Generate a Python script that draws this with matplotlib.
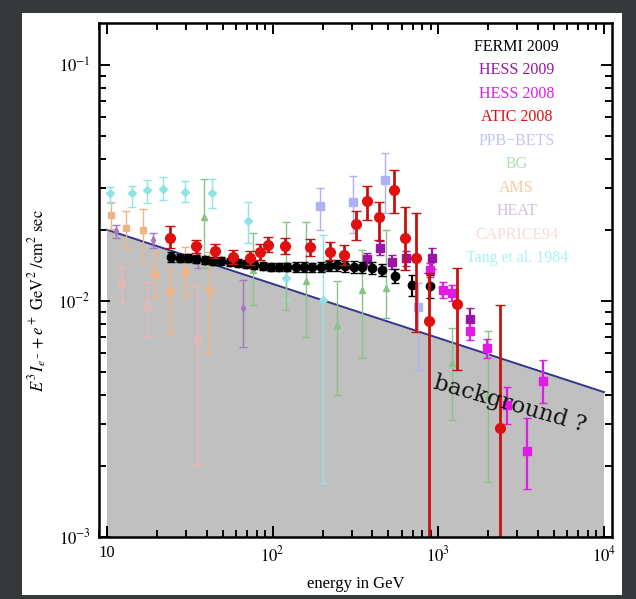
import numpy as np
import matplotlib
matplotlib.use("Agg")
import matplotlib.pyplot as plt
from matplotlib.patches import Rectangle
from matplotlib.ticker import LogLocator, FuncFormatter, NullFormatter

plt.rcParams['font.family'] = ['Liberation Serif', 'DejaVu Serif']
plt.rcParams['mathtext.fontset'] = 'stix'

# ---- measurements: energy [GeV], E^3 flux, lower and upper error limits ----
fermi_E = [24.5, 27.5, 30.9, 34.6, 38.8, 43.6, 48.9, 54.9, 61.6, 69.1, 77.5, 87.0,
           97.6, 109.5, 122.9, 137.9, 154.7, 173.6, 194.8, 218.6, 245.2, 275.2,
           308.7, 346.4, 396.0, 455, 547, 690, 889]
fermi_y = [0.01536, 0.01521, 0.01514, 0.01507, 0.01492, 0.01477, 0.0147, 0.01456,
           0.01442, 0.01428, 0.01414, 0.0140, 0.01393, 0.01393, 0.01393, 0.01393,
           0.01393, 0.01387, 0.01393, 0.01407, 0.01414, 0.0140, 0.01393, 0.01387,
           0.0138, 0.01353, 0.01276, 0.01169, 0.01158]
fermi_rel = [0.045, 0.04, 0.04, 0.04, 0.04, 0.04, 0.04, 0.04, 0.04, 0.04, 0.04, 0.04,
             0.04, 0.04, 0.04, 0.045, 0.045, 0.045, 0.05, 0.05, 0.05, 0.05, 0.055,
             0.055, 0.06, 0.06, 0.07, 0.10, 0.11]

hess09_E = [369, 444, 523, 638, 911, 1551]
hess09_y = [0.01499, 0.01673, 0.01456, 0.01517, 0.01517, 0.00837]
hess09_lo = [0.0141, 0.0156, 0.0136, 0.0141, 0.0137, 0.0076]
hess09_hi = [0.0160, 0.0180, 0.0156, 0.0163, 0.0167, 0.0093]

hess08_E = [889, 1071, 1203, 1551, 1956, 2594, 3425, 4295]
hess08_y = [0.01353, 0.01113, 0.01084, 0.00741, 0.0063, 0.00362, 0.00231, 0.00455]
hess08_lo = [0.0126, 0.0103, 0.0100, 0.0068, 0.0057, 0.0030, 0.0016, 0.0037]
hess08_hi = [0.0145, 0.0120, 0.0117, 0.0081, 0.0069, 0.0043, 0.0032, 0.0056]

atic_E = [24.0, 34.5, 44.9, 57.5, 73.0, 83.8, 94.1, 118.6, 167.8, 223, 269, 320,
          371, 438, 543, 633, 732, 877, 1294, 2355]
atic_y = [0.01844, 0.01699, 0.01629, 0.01536, 0.01521, 0.01613, 0.01727, 0.0171,
          0.01682, 0.01617, 0.01559, 0.02109, 0.02635, 0.0227, 0.02953, 0.01844,
          0.01521, 0.00823, 0.00971, 0.00288]
atic_lo = [0.01677, 0.01597, 0.01521, 0.01435, 0.01414, 0.01492, 0.01613, 0.01582,
           0.01551, 0.01492, 0.01414, 0.01814, 0.02203, 0.01814, 0.0236, 0.01353,
           0.00739, 0.0001, 0.0051, 0.0001]
atic_hi = [0.0208, 0.01814, 0.01744, 0.01645, 0.01629, 0.01744, 0.01867, 0.01844,
           0.01831, 0.01778, 0.01727, 0.02406, 0.03072, 0.02627, 0.0359, 0.02502,
           0.0236, 0.01314, 0.0138, 0.00962]

ppb_E = [194, 305, 476, 753]
ppb_y = [0.0251, 0.02627, 0.03256, 0.00943]
ppb_lo = [0.0200, 0.01941, 0.0236, 0.0051]
ppb_hi = [0.0301, 0.03385, 0.0424, 0.01192]

bg_E = [38.7, 76.3, 120, 158, 245, 344, 483, 1203, 2001]
bg_y = [0.02276, 0.01353, 0.0138, 0.0121, 0.00791, 0.01113, 0.01132, 0.00546, 0.0040]
bg_lo = [0.0138, 0.00962, 0.00916, 0.0070, 0.0040, 0.00573, 0.00847, 0.00313, 0.00171]
bg_hi = [0.0329, 0.01941, 0.02163, 0.02163, 0.01207, 0.01645, 0.0200, 0.00768, 0.00741]

ams_E = [10.6, 13.1, 16.4, 19.5, 24.0, 29.6, 41.4]
ams_y = [0.02314, 0.02039, 0.0200, 0.01301, 0.0110, 0.01327, 0.01113]
ams_lo = [0.0202, 0.01677, 0.01463, 0.0103, 0.00732, 0.0104, 0.00602]
ams_hi = [0.02627, 0.02406, 0.02455, 0.01613, 0.01353, 0.01694, 0.01613]

heat_E = [11.4, 19.0, 35.4, 66.5]
heat_y = [0.0198, 0.01814, 0.01551, 0.00934]
heat_lo = [0.0185, 0.01677, 0.0138, 0.00639]
heat_hi = [0.0210, 0.01941, 0.01727, 0.01227]

caprice_E = [12.3, 17.4, 34.9]
caprice_y = [0.01189, 0.00946, 0.00684]
caprice_lo = [0.00981, 0.00704, 0.00202]
caprice_hi = [0.01393, 0.01203, 0.01169]

tang_E = [10.4, 14.1, 17.4, 21.9, 29.6, 42.8, 71.2, 120, 201]
tang_y = [0.0286, 0.0286, 0.0295, 0.0297, 0.0290, 0.0286, 0.02168, 0.01252, 0.0101]
tang_lo = [0.0260, 0.0250, 0.0260, 0.0268, 0.0263, 0.0248, 0.01761, 0.0101, 0.00169]
tang_hi = [0.0304, 0.0307, 0.0326, 0.0335, 0.0323, 0.0329, 0.02627, 0.01463, 0.01904]

# assumed power-law background
bg_line_E = [10, 10000]
bg_line_y = [0.020, 0.0041]

legend_labels = ['FERMI 2009', 'HESS 2009', 'HESS 2008', 'ATIC 2008', 'PPB\u2212BETS',
                 'BG', 'AMS', 'HEAT', 'CAPRICE94', 'Tang et al. 1984']
legend_colors = ['#000000', '#9a14a8', '#e21ae6', '#e01010', '#c4c4f4',
                 '#b4dcb4', '#f8caa2', '#d4bee4', '#f8dada', '#a8f2f2']

W, H = 636, 599
fig = plt.figure(figsize=(W / 100, H / 100), dpi=100, facecolor='#35393a')
fig.patches.append(Rectangle((22 / W, 1 - 595 / H), (622 - 22) / W, (595 - 13) / H,
                             transform=fig.transFigure, facecolor='white',
                             edgecolor='none', zorder=-10))

ax = fig.add_axes([99 / W, 1 - 536.7 / H, (611.7 - 99) / W, (536.7 - 23.3) / H])
ax.set_zorder(5)
ax.set_xscale('log')
ax.set_yscale('log')
ax.set_xlim(8.95, 11130)
ax.set_ylim(1e-3, 0.15)

# background region
xs = np.array(bg_line_E, dtype=float)
ys = np.array(bg_line_y)
ax.fill_between(xs, ys, 1e-5, color='#c0c0c0', lw=0, zorder=1)
ax.plot(xs, ys, color='#34348a', lw=1.4, zorder=2)


def series(E, y, lo, hi, fmt, color, ecolor, ms, elw, cap, z, mfc=None, mew=1.0):
    E = np.asarray(E, float)
    y = np.asarray(y, float)
    err = [y - np.asarray(lo, float), np.asarray(hi, float) - y]
    ax.errorbar(E, y, yerr=err, fmt=fmt, color=color, ecolor=ecolor, ms=ms,
                elinewidth=elw, capsize=cap, capthick=elw, zorder=z,
                mfc=mfc if mfc is not None else color, mec=color, mew=mew)


series(caprice_E, caprice_y, caprice_lo, caprice_hi, 's', '#f0b4b4', '#f0b4b4',
       5, 1.0, 3, 3, mfc='none')
series(ams_E, ams_y, ams_lo, ams_hi, 's', '#f0b484', '#f0b484', 4, 1.0, 3, 3)
series(heat_E, heat_y, heat_lo, heat_hi, 'd', '#a678c4', '#a678c4', 4, 1.0, 3, 3)
series(tang_E, tang_y, tang_lo, tang_hi, 'D', '#8ee4e4', '#8ee4e4', 4, 1.0, 3, 3)
series(bg_E, bg_y, bg_lo, bg_hi, '^', '#88c488', '#88c488', 4, 1.0, 3, 3)
series(ppb_E, ppb_y, ppb_lo, ppb_hi, 's', '#b0b0f4', '#b0b0f4', 6, 1.0, 3, 4)

fermi_E_a = np.array(fermi_E)
fermi_y_a = np.array(fermi_y)
fermi_rel_a = np.array(fermi_rel)
series(fermi_E_a, fermi_y_a, fermi_y_a * (1 - fermi_rel_a),
       fermi_y_a * (1 + fermi_rel_a), 'o', '#000000', '#000000', 6, 1.6, 3, 6)
series(hess09_E, hess09_y, hess09_lo, hess09_hi, 's', '#9a14a8', '#9a14a8', 6, 1.6, 3, 5)
series(hess08_E, hess08_y, hess08_lo, hess08_hi, 's', '#e21ae6', '#e21ae6', 6, 1.6, 3, 5)
series(atic_E, atic_y, atic_lo, atic_hi, 'o', '#e01010', '#c81010', 7, 2.0, 3.5, 7)

# legend as coloured text entries
for i, (lab, col) in enumerate(zip(legend_labels, legend_colors)):
    ax.text(516.7 / W, 1 - (46.7 + 23.5 * i) / H, lab, transform=fig.transFigure,
            ha='center', va='center', fontsize=11.5, color=col, zorder=8)

ax.text(2704, 0.00363, 'background ?', rotation=-16, ha='center', va='center',
        rotation_mode='anchor', fontsize=16.5, color='#111111', zorder=9,
        family=['DejaVu Serif'])

# axes styling
ax.patch.set_alpha(0)
for s in ax.spines.values():
    s.set_linewidth(1.8)
    s.set_color('black')
    s.set_zorder(10)

ax.xaxis.set_major_locator(LogLocator(base=10, numticks=10))
ax.xaxis.set_minor_locator(LogLocator(base=10, subs=np.arange(2, 10), numticks=20))
ax.yaxis.set_major_locator(LogLocator(base=10, numticks=10))
ax.yaxis.set_minor_locator(LogLocator(base=10, subs=np.arange(2, 10), numticks=20))


def xfmt(v, pos):
    n = int(round(np.log10(v)))
    return '10' if n == 1 else r'$10^{%d}$' % n


def yfmt(v, pos):
    n = int(round(np.log10(v)))
    return r'$10^{%d}$' % n


ax.xaxis.set_major_formatter(FuncFormatter(xfmt))
ax.yaxis.set_major_formatter(FuncFormatter(yfmt))
ax.xaxis.set_minor_formatter(NullFormatter())
ax.yaxis.set_minor_formatter(NullFormatter())
ax.tick_params(which='both', direction='in', top=True, right=True, colors='black',
               labelsize=12, width=1.4)
ax.tick_params(which='major', length=8, pad=6)
ax.tick_params(which='minor', length=5)

ax.set_xlabel('energy in GeV', fontsize=12, labelpad=8)
ax.set_ylabel(r'$E^3\, I_{e^-}+e^+\ \mathrm{GeV}^2\ /\mathrm{cm}^2\ \mathrm{sec}$',
              fontsize=12)
ax.yaxis.set_label_coords(-0.098, 0.46)

fig.savefig('out.png', dpi=100, facecolor=fig.get_facecolor())
